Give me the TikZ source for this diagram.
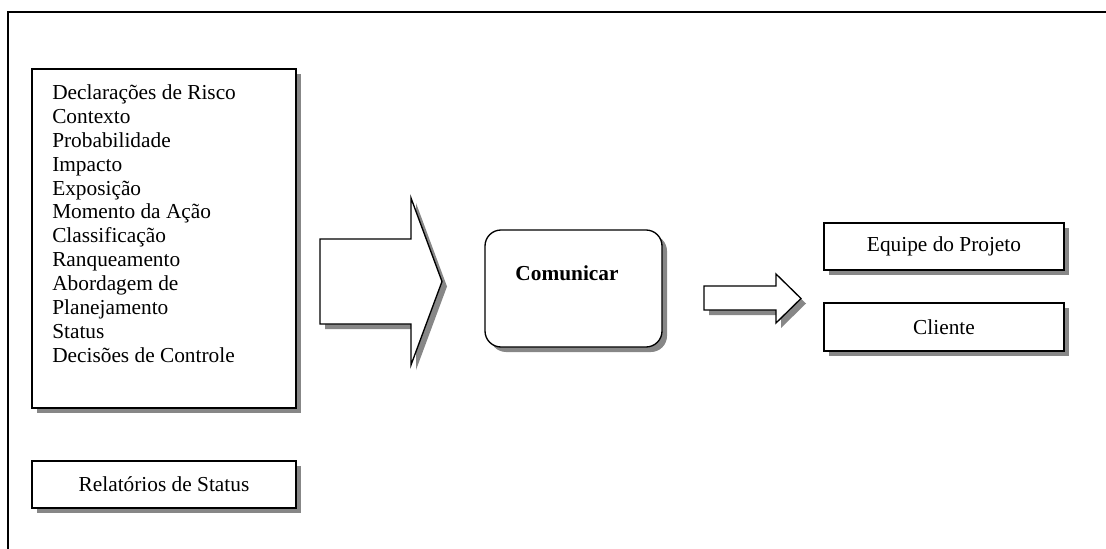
\documentclass[tikz,border=0pt]{standalone}
\usepackage{fontspec}
\setmainfont{Liberation Serif}
\usetikzlibrary{shadows}
\tikzset{
  shadowed/.style={drop shadow={shadow xshift=3.75pt,shadow yshift=-3.75pt,fill=black!47,opacity=1}},
  box/.style={draw,line width=1pt,fill=white,shadowed,inner sep=0pt,font=\fontsize{16}{18}\selectfont},
  txt/.style={inner sep=0pt,font=\fontsize{16}{17.9}\selectfont},
}
\begin{document}
\begin{tikzpicture}[x=0.75pt,y=-0.75pt]
  \useasboundingbox (0,0) rectangle (1106,549);
  % frame
  \coordinate (ftr) at (1106,12);
  \coordinate (fbl) at (8,549);
  \draw[line width=1.3pt] (ftr) -| (fbl);

  % boxes
  \node[box,minimum width=198pt,minimum height=254.25pt] (dados) at (164,238.5) {};
  \node[txt,anchor=north west,align=left] (lista) at (52,84.5) {Declarações de Risco\\Contexto\\Probabilidade\\Impacto\\Exposição\\Momento da Ação\\Classificação\\Ranqueamento\\Abordagem de\\Planejamento\\Status\\Decisões de Controle};
  \node[box,minimum width=198pt,minimum height=35.25pt] (relat) at (164,484.5) {Relatórios de Status};

  \node[box,rounded corners=12pt,minimum width=132.75pt,minimum height=87.75pt] (comun) at (573.5,288.5) {};
  \node[txt,anchor=base,font=\fontsize{16}{18}\selectfont\bfseries] (comuntxt) at (567,280) {Comunicar};

  \node[box,minimum width=180pt,minimum height=35.25pt] (equipe) at (944,246.5) {Equipe do Projeto};
  \node[box,minimum width=180pt,minimum height=36pt] (cliente) at (944,327) {Cliente};

  % arrows
  \draw[line width=1pt,fill=white,shadowed] (320,239) -- (411,239) -- (411,198) -- (442,281.5)
    -- (411,365) -- (411,324) -- (320,324) -- cycle;
  \draw[line width=1pt,fill=white,shadowed] (704,286) -- (776,286) -- (776,274) -- (801,298.5)
    -- (776,323) -- (776,310) -- (704,310) -- cycle;
\end{tikzpicture}
\end{document}
